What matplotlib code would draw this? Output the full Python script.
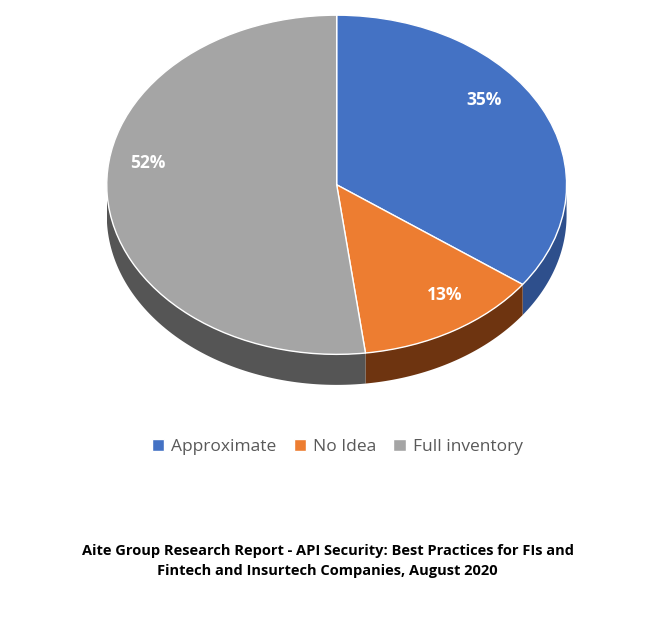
import numpy as np
import matplotlib.pyplot as plt
from matplotlib.patches import Polygon

plt.rcParams['font.family'] = ['Open Sans', 'DejaVu Sans']

labels = ['Approximate', 'No Idea', 'Full inventory']
values = [35, 13, 52]
colors = ['#4472C4', '#ED7D31', '#A5A5A5']
side_colors = ['#2E4F8C', '#6E3410', '#555555']
label_pos = [(0.64, 0.5), (0.47, -0.65), (-0.82, 0.13)]

depth = 0.18

fig = plt.figure(figsize=(6.55, 6.32), dpi=100)
ax = fig.add_axes([0.163, 0.391, 0.702, 0.585])

# side walls (front half only)
start = 90.0
for v, sc in zip(values, side_colors):
    end = start - v * 3.6
    lo, hi = max(end, -180), min(start, 0)
    if lo < hi:
        t = np.radians(np.linspace(lo, hi, 80))
        x, y = np.cos(t), np.sin(t)
        pts = np.column_stack([np.r_[x, x[::-1]], np.r_[y, y[::-1] - depth]])
        ax.add_patch(Polygon(pts, closed=True, facecolor=sc, edgecolor='none', zorder=1))
    start = end

wedges, _ = ax.pie(values, colors=colors, startangle=90, counterclock=False,
                   radius=1, center=(0, 0), wedgeprops=dict(linewidth=1, edgecolor='white'))
for w in wedges:
    w.set_zorder(2)

for (px, py), v in zip(label_pos, values):
    ax.text(px, py, f'{v}%', color='white', fontsize=12.5, fontweight='bold',
            ha='center', va='center', zorder=3)

ax.set_aspect('auto')
ax.set_xlim(-1, 1)
ax.set_ylim(-1 - depth, 1)
ax.axis('off')

fig.legend(wedges, labels, loc='center', bbox_to_anchor=(0.515, 1 - 447 / 632),
           ncol=3, frameon=False, fontsize=12.5, handlelength=0.7, handleheight=0.7,
           columnspacing=1.0, handletextpad=0.4, labelcolor='#595959')

fig.text(0.5, 1 - 561 / 632,
         'Aite Group Research Report - API Security: Best Practices for FIs and\n'
         'Fintech and Insurtech Companies, August 2020',
         ha='center', va='center', fontsize=10.5, fontweight='bold', linespacing=1.6)

fig.savefig('out.png', dpi=100)
